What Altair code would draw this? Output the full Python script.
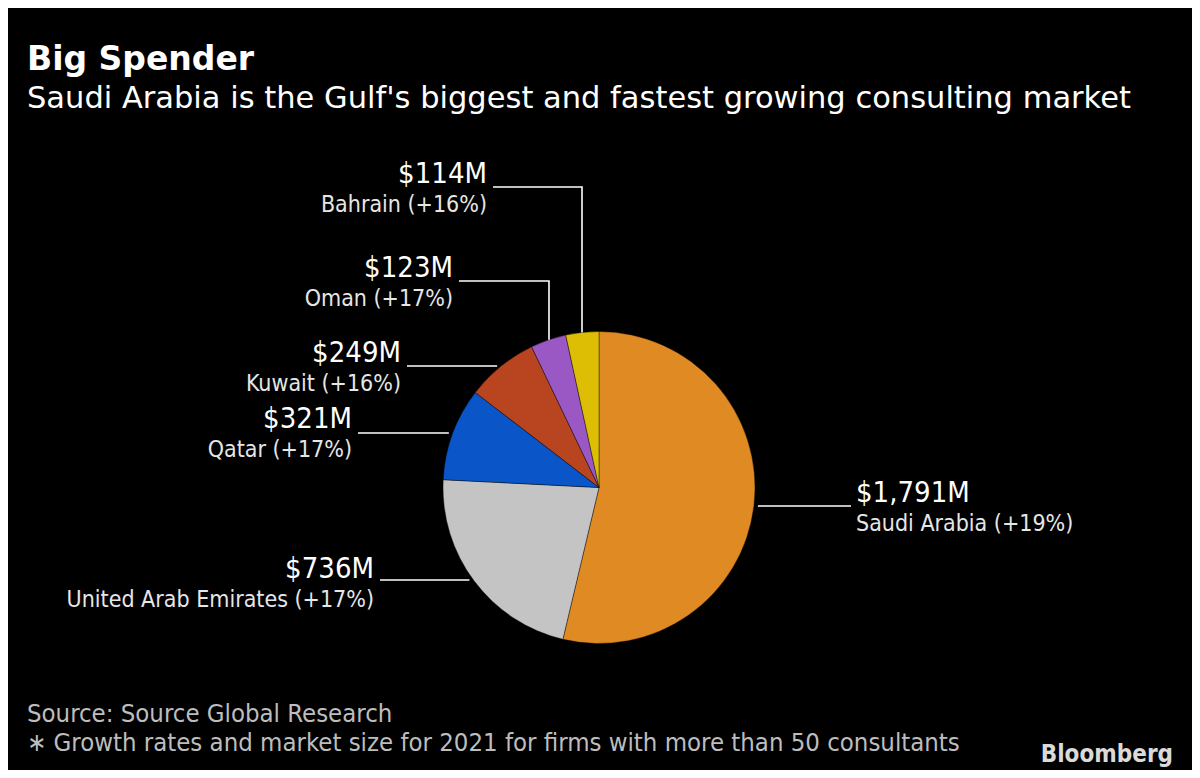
import altair as alt
import numpy as np
import pandas as pd

# ---------------- data ----------------
countries = ["Saudi Arabia", "United Arab Emirates", "Qatar", "Kuwait", "Oman", "Bahrain"]
market_musd = [1791, 736, 321, 249, 123, 114]
growth_pct = [19, 17, 17, 16, 17, 16]
colors = ["#E08A24", "#C4C4C4", "#0A55C8", "#B8451F", "#9A58C4", "#DDBE05"]

title = "Big Spender"
subtitle = "Saudi Arabia is the Gulf's biggest and fastest growing consulting market"
source = "Source: Source Global Research"
footnote = "\u2217 Growth rates and market size for 2021 for firms with more than 50 consultants"
brand = "Bloomberg"

# ---------------- layout (page pixels) ----------------
W, H = 1184, 762
CX, CY, R = 599, 487.5, 156
GAP = 4
# text x, value baseline, alignment, leader row y, elbow x (None = straight to slice)
label_layout = {
    "Saudi Arabia":         dict(tx=856, ty=502, align="left",  ly=506, vx=None),
    "United Arab Emirates": dict(tx=374, ty=578, align="right", ly=580, vx=None),
    "Qatar":                dict(tx=352, ty=428, align="right", ly=433, vx=None),
    "Kuwait":               dict(tx=401, ty=362, align="right", ly=366, vx=None),
    "Oman":                 dict(tx=453, ty=277, align="right", ly=281, vx=549),
    "Bahrain":              dict(tx=487, ty=183, align="right", ly=187, vx=582),
}
SUB_DY = 29

FONT_T = "DejaVu Sans"
FONT_C = "DejaVu Sans Condensed, Liberation Sans Narrow, DejaVu Sans"

xs = alt.Scale(domain=[8, 8 + W], range=[0, W], nice=False, zero=False)
ys = alt.Scale(domain=[8, 8 + H], range=[0, H], nice=False, zero=False)

# ---------------- pie ----------------
pie_df = pd.DataFrame({
    "country": countries,
    "value": market_musd,
    "idx": list(range(len(countries))),
    "cx": CX,
    "cy": CY,
})

pie = alt.Chart(pie_df).mark_arc(outerRadius=R, stroke="#000000", strokeWidth=0.4).encode(
    theta=alt.Theta("value:Q", stack=True),
    color=alt.Color("country:N", scale=alt.Scale(domain=countries, range=colors), legend=None),
    order=alt.Order("idx:Q"),
    x=alt.X("cx:Q", scale=xs, axis=None),
    y=alt.Y("cy:Q", scale=ys, axis=None),
)

# ---------------- leader lines ----------------
rows = []
for c in countries:
    L = label_layout[c]
    if L["align"] == "left":
        x0 = L["tx"] - 5
        dy = L["ly"] - CY
        xe = CX + np.sqrt(R**2 - dy**2) + GAP
        pts = [(x0, L["ly"]), (xe, L["ly"])]
    else:
        x0 = L["tx"] + 6
        if L["vx"] is None:
            dy = L["ly"] - CY
            xe = CX - np.sqrt(R**2 - dy**2) - GAP
            pts = [(x0, L["ly"]), (xe, L["ly"])]
        else:
            dx = L["vx"] - CX
            ye = CY - np.sqrt(R**2 - dx**2)
            pts = [(x0, L["ly"]), (L["vx"], L["ly"]), (L["vx"], ye)]
    for i, (px, py) in enumerate(pts):
        rows.append({"country": c, "seq": i, "x": px, "y": py})
lines_df = pd.DataFrame(rows)

lines = alt.Chart(lines_df).mark_line(color="#FFFFFF", strokeWidth=1.6).encode(
    x=alt.X("x:Q", scale=xs, axis=None),
    y=alt.Y("y:Q", scale=ys, axis=None),
    detail="country:N",
    order="seq:Q",
)

# ---------------- labels ----------------
lab_rows = []
for c, v, g in zip(countries, market_musd, growth_pct):
    L = label_layout[c]
    lab_rows.append({"x": L["tx"], "y": L["ty"], "align": L["align"],
                     "val": f"${v:,}M", "name": f"{c} (+{g}%)"})
lab_df = pd.DataFrame(lab_rows)
lab_df["y2"] = lab_df["y"] + SUB_DY

val_layers = []
name_layers = []
for al in ["left", "right"]:
    sub = lab_df[lab_df["align"] == al]
    val_layers.append(alt.Chart(sub).mark_text(
        align=al, baseline="alphabetic", font=FONT_C, fontSize=29, color="#FFFFFF"
    ).encode(x=alt.X("x:Q", scale=xs, axis=None), y=alt.Y("y:Q", scale=ys, axis=None), text="val:N"))
    name_layers.append(alt.Chart(sub).mark_text(
        align=al, baseline="alphabetic", font=FONT_C, fontSize=23, color="#E6E6E6"
    ).encode(x=alt.X("x:Q", scale=xs, axis=None), y=alt.Y("y2:Q", scale=ys, axis=None), text="name:N"))

# ---------------- titles & footer ----------------
hdr_df = pd.DataFrame([
    {"t": title, "x": 27, "y": 70, "kind": "title"},
    {"t": subtitle, "x": 27, "y": 108, "kind": "subtitle"},
    {"t": source, "x": 27, "y": 722, "kind": "source"},
    {"t": footnote, "x": 27, "y": 751, "kind": "source"},
])

def txt(kind, **kw):
    return alt.Chart(hdr_df[hdr_df["kind"] == kind]).mark_text(
        align="left", baseline="alphabetic", **kw
    ).encode(x=alt.X("x:Q", scale=xs, axis=None), y=alt.Y("y:Q", scale=ys, axis=None), text="t:N")

t_title = txt("title", font=FONT_T, fontSize=33, fontWeight="bold", color="#FFFFFF")
t_sub = txt("subtitle", font=FONT_T, fontSize=30.5, color="#FFFFFF")
t_src = txt("source", font=FONT_C, fontSize=25.5, color="#BDBDBD")

brand_df = pd.DataFrame([{"t": brand, "x": 1173, "y": 762}])
t_brand = alt.Chart(brand_df).mark_text(
    align="right", baseline="alphabetic", font=FONT_C, fontSize=24, fontWeight="bold", color="#DADADA"
).encode(x=alt.X("x:Q", scale=xs, axis=None), y=alt.Y("y:Q", scale=ys, axis=None), text="t:N")

chart = alt.layer(
    pie, lines, *val_layers, *name_layers, t_title, t_sub, t_src, t_brand
).properties(
    width=W, height=H, background="#000000", padding=0,
    autosize=alt.AutoSizeParams(type="none"),
).configure_view(stroke=None)

chart.save("out.html", embed_options={"renderer": "svg", "actions": False})
